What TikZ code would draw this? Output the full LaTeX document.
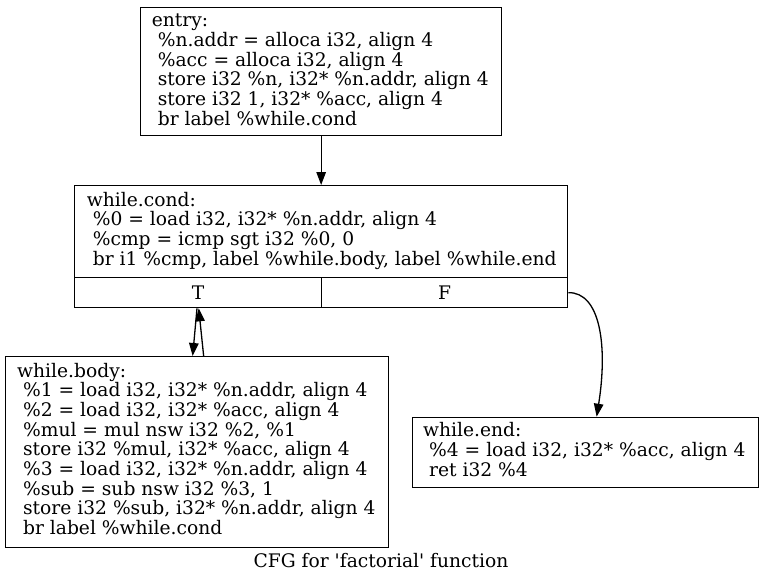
\documentclass[tikz,border=0pt]{standalone}
\usepackage{fontspec}
\setmainfont{DejaVu Serif}
\usetikzlibrary{arrows.meta}
\newcommand\ind{\hskip\fontdimen2\font}
\newcommand\cfglines[1]{\vtop{\baselineskip=19.7pt\lineskiplimit=-20pt\lineskip=0pt\halign{##\hfil\cr#1\crcr}}}
\tikzset{
  blk/.style={draw=black, line width=1.3pt, rectangle, inner sep=0pt, anchor=north west},
  txt/.style={inner sep=0pt, anchor=base west, font=\fontsize{18.67}{19.7}\selectfont},
  cell/.style={draw=black, line width=1.3pt, rectangle, inner sep=0pt, anchor=north west, font=\fontsize{18.67}{19.7}\selectfont},
  edge/.style={draw=black, line width=1.3pt, -{Triangle[length=13pt,width=9.5pt]}}
}
\begin{document}
\begin{tikzpicture}[x=1pt,y=-1pt]
\useasboundingbox (0,0) rectangle (763,584);
\fill[white] (0,0) rectangle (763,584);
% entry
\node[blk, minimum width=361pt, minimum height=128pt] (entry) at (140,7) {};
\node[txt] (entrytxt) at (151.7,26.7) {\cfglines{entry:\cr
\ind\%n.addr = alloca i32, align 4\cr
\ind\%acc = alloca i32, align 4\cr
\ind store i32 \%n, i32* \%n.addr, align 4\cr
\ind store i32 1, i32* \%acc, align 4\cr
\ind br label \%while.cond}};
% while.cond
\node[blk, minimum width=493pt, minimum height=122pt] (cond) at (74,185) {};
\node[txt] (condtxt) at (86.7,206) {\cfglines{while.cond:\cr
\ind\%0 = load i32, i32* \%n.addr, align 4\cr
\ind\%cmp = icmp sgt i32 \%0, 0\cr
\ind br i1 \%cmp, label \%while.body, label \%while.end}};
\node[cell, minimum width=246.7pt, minimum height=30pt] (condT) at (74,277) {T};
\node[cell, minimum width=246.3pt, minimum height=30pt] (condF) at (320.7,277) {F};
% while.body
\node[blk, minimum width=383pt, minimum height=191pt] (body) at (5,356) {};
\node[txt] (bodytxt) at (17,377) {\cfglines{while.body:\cr
\ind\%1 = load i32, i32* \%n.addr, align 4\cr
\ind\%2 = load i32, i32* \%acc, align 4\cr
\ind\%mul = mul nsw i32 \%2, \%1\cr
\ind store i32 \%mul, i32* \%acc, align 4\cr
\ind\%3 = load i32, i32* \%n.addr, align 4\cr
\ind\%sub = sub nsw i32 \%3, 1\cr
\ind store i32 \%sub, i32* \%n.addr, align 4\cr
\ind br label \%while.cond}};
% while.end
\node[blk, minimum width=346pt, minimum height=70pt] (wend) at (412,416.7) {};
\node[txt] (wendtxt) at (423,436.7) {\cfglines{while.end:\cr
\ind\%4 = load i32, i32* \%acc, align 4\cr
\ind ret i32 \%4}};
% title
\node[inner sep=0pt, anchor=base, font=\fontsize{18.67}{19.7}\selectfont] (title) at (381,567.3) {CFG for \textquotesingle factorial\textquotesingle{} function};
% edges
\draw[edge] (entry.south) -- (cond.north);
\draw[edge] ([xshift=-1pt]condT.south) -- ([xshift=-4.5pt]body.north);
\draw[edge] ([xshift=6.5pt]body.north) -- ([xshift=0.7pt]condT.south);
\draw[edge] (condF.east) .. controls (600,292) and (608,345) .. ([xshift=11pt]wend.north);
\end{tikzpicture}
\end{document}
